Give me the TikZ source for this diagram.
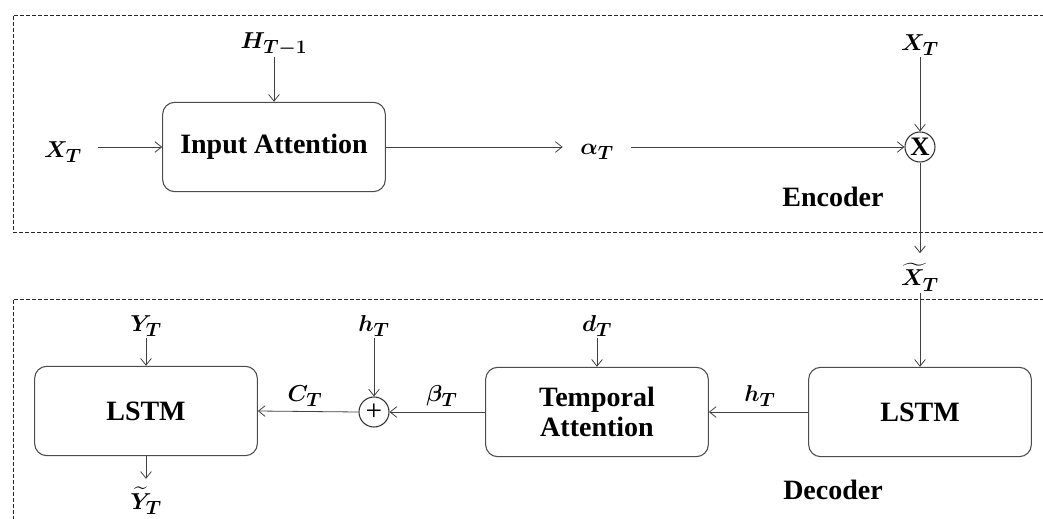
\documentclass[tikz,border=0pt]{standalone}
\usepackage{fontspec}
\setmainfont{Liberation Serif}
\usepackage{amsmath,bm}
\usetikzlibrary{arrows.meta}
\begin{document}
\begin{tikzpicture}[x=0.75pt,y=-0.75pt,
  blk/.style={draw=black!70, rounded corners=9pt, line width=0.8pt,
    font=\fontsize{21}{23}\selectfont\bfseries, align=center, inner sep=0,
    minimum width=167pt, minimum height=67pt},
  lbl/.style={font=\fontsize{19}{22}\selectfont, inner sep=1pt},
  ttl/.style={font=\fontsize{21}{23}\selectfont\bfseries, inner sep=1pt},
  arr/.style={-{Straight Barb[length=5pt,width=8pt]}, line width=0.6pt, draw=black!75},
  op/.style={circle, draw=black!80, line width=0.8pt, minimum size=22.5pt, inner sep=0},
  frame/.style={dash pattern=on 3pt off 1.5pt, line width=0.6pt, draw=black!85}]
\useasboundingbox (0,0) rectangle (1043,518);

% frames
\draw[frame] (1050,15) -- (13,15) -- (13,232) -- (1050,232);
\draw[frame] (1050,299) -- (13,299) -- (13,530);

% encoder
\node[blk] (ia) at (274,147) {Input Attention};
\node[lbl] (xt) at (63,152) {$\bm{X_T}$};
\node[lbl] (htm) at (274,44) {$\bm{H_{T-1}}$};
\node[lbl] (alpha) at (597,152) {$\bm{\alpha_T}$};
\node[op] (mul) at (920,147) {\fontsize{20}{22}\selectfont\bfseries X};
\node[lbl] (xt2) at (920,45) {$\bm{X_T}$};
\node[lbl] (xtt) at (920,277) {$\bm{\widetilde{X}_T}$};
\node[ttl] (enc) at (833,197) {Encoder};

% decoder
\node[blk] (lstm2) at (920,412) {LSTM};
\node[blk] (ta) at (597,412) {Temporal\\Attention};
\node[lbl] (h1) at (760,396) {$\bm{h_T}$};
\node[lbl] (dt) at (597,326) {$\bm{d_T}$};
\node[op] (add) at (374,412) {\fontsize{22}{22}\selectfont +};
\node[lbl] (beta) at (442,396) {$\bm{\beta_T}$};
\node[lbl] (h2) at (374,326) {$\bm{h_T}$};
\node[lbl] (ct) at (305,396) {$\bm{C_T}$};
\node[blk] (lstm1) at (146,411) {LSTM};
\node[lbl] (yt) at (146,326) {$\bm{Y_T}$};
\node[lbl] (ytt) at (146,501) {$\bm{\widetilde{Y}_T}$};
\node[ttl] (dec) at (833,490) {Decoder};

% connectors
\draw[arr] ([xshift=11pt]xt.east |- ia.west) -- (ia.west);
\draw[arr] (htm.south) -- (ia.north);
\draw[arr] (ia.east) -- ([xshift=-12pt]alpha.west |- ia.east);
\draw[arr] ([xshift=12pt]alpha.east |- mul.west) -- (mul.west);
\draw[arr] (xt2.south) -- (mul.north);
\draw[arr] (mul.south) -- ([yshift=6pt]xtt.north);
\draw[arr] (xtt.south) -- (lstm2.north);
\draw[arr] (lstm2.west) -- (ta.east);
\draw[arr] (dt.south) -- (ta.north);
\draw[arr] (ta.west) -- (add.east);
\draw[arr] (h2.south) -- (add.north);
\draw[arr] (add.west) -- (lstm1.east);
\draw[arr] (yt.south) -- (lstm1.north);
\draw[arr] (lstm1.south) -- ([yshift=5pt]ytt.north);
\end{tikzpicture}
\end{document}
